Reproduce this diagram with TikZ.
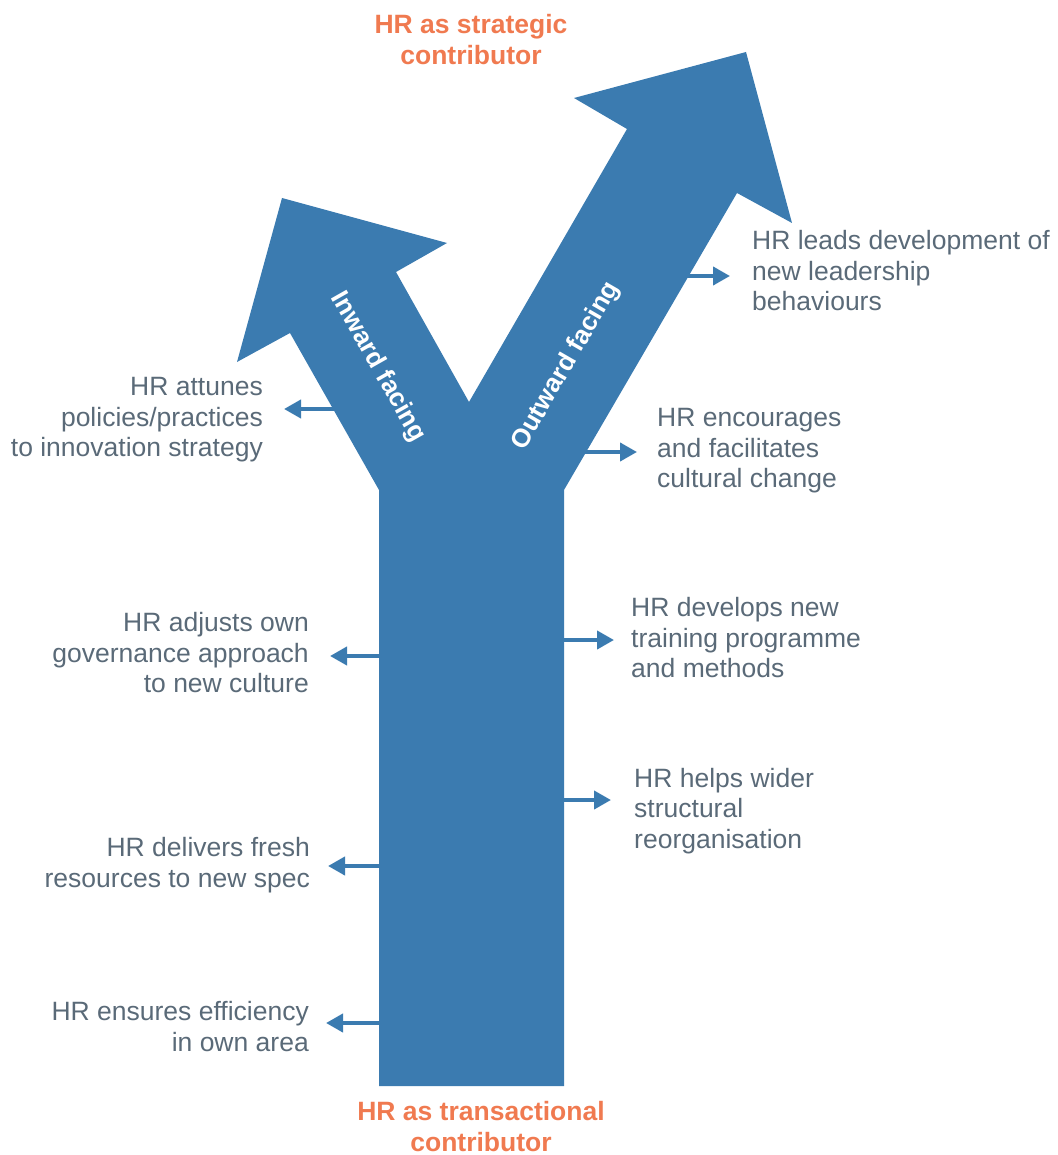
\documentclass[tikz,border=0pt]{standalone}
\usepackage{fontspec}
\setmainfont{Liberation Sans}
\usetikzlibrary{arrows.meta}
\definecolor{hrblue}{RGB}{59,123,176}
\definecolor{hrorange}{RGB}{240,122,80}
\definecolor{hrgrey}{RGB}{90,106,120}
\begin{document}
\begin{tikzpicture}[x=1pt,y=-1pt,
  lbl/.style={font=\fontsize{26.5}{30.5}\selectfont, text=hrgrey, inner sep=0pt},
  lblL/.style={lbl, align=right, anchor=east},
  lblR/.style={lbl, align=left, anchor=west},
  titletext/.style={font=\bfseries\fontsize{26.5}{31}\selectfont, text=hrorange, align=center, inner sep=0pt},
  sidetext/.style={font=\bfseries\fontsize{26}{30}\selectfont, text=white, inner sep=0pt},
  pointer/.style={draw=hrblue, line width=4pt, -{Triangle[length=17pt,width=18pt,fill=hrblue]}},
]
\useasboundingbox (0,0) rectangle (1057,1155);

% the Y-shaped arrow
\fill[hrblue] (379,1086) -- (379,490) -- (290,333) -- (237,362) -- (282,198)
  -- (447,243) -- (396,272) -- (469,402) -- (627,129) -- (574,98) -- (746,52)
  -- (792,223) -- (737,193) -- (564,490) -- (564,1086) -- cycle;

\node[sidetext, rotate=-60.5] (inward) at (378,367) {Inward facing};
\node[sidetext, rotate=60] (outward) at (566,366) {Outward facing};

% titles
\node[titletext] (top) at (471,40) {HR as strategic\\contributor};
\node[titletext] (bottom) at (481,1127) {HR as transactional\\contributor};

% labels
\node[lblL] (attunes) at (263,420) {HR attunes\\policies/practices\\to innovation strategy};
\node[lblL] (adjusts) at (309,653) {HR adjusts own\\governance approach\\to new culture};
\node[lblL] (delivers) at (310,865) {HR delivers fresh\\resources to new spec};
\node[lblL] (ensures) at (309,1026.5) {HR ensures efficiency\\in own area};
\node[lblR] (leads) at (752,271) {HR leads development of\\new leadership\\behaviours};
\node[lblR] (encourages) at (657,451) {HR encourages\\and facilitates\\cultural change};
\node[lblR] (develops) at (631,638) {HR develops new\\training programme\\and methods};
\node[lblR] (helps) at (634,811) {HR helps wider\\structural\\reorganisation};

% pointer coordinates
\coordinate (s1) at (336,409);  \coordinate (e1) at (284,409);
\coordinate (s2) at (381,656);  \coordinate (e2) at (330,656);
\coordinate (s3) at (381,866);  \coordinate (e3) at (328,866);
\coordinate (s4) at (381,1023); \coordinate (e4) at (326,1023);
\coordinate (s5) at (685,276);  \coordinate (e5) at (730,276);
\coordinate (s6) at (584,452);  \coordinate (e6) at (637,452);
\coordinate (s7) at (562,640);  \coordinate (e7) at (614,640);
\coordinate (s8) at (562,800);  \coordinate (e8) at (611,800);

\foreach \i in {1,...,8} { \draw[pointer] (s\i) -- (e\i); }
\end{tikzpicture}
\end{document}
